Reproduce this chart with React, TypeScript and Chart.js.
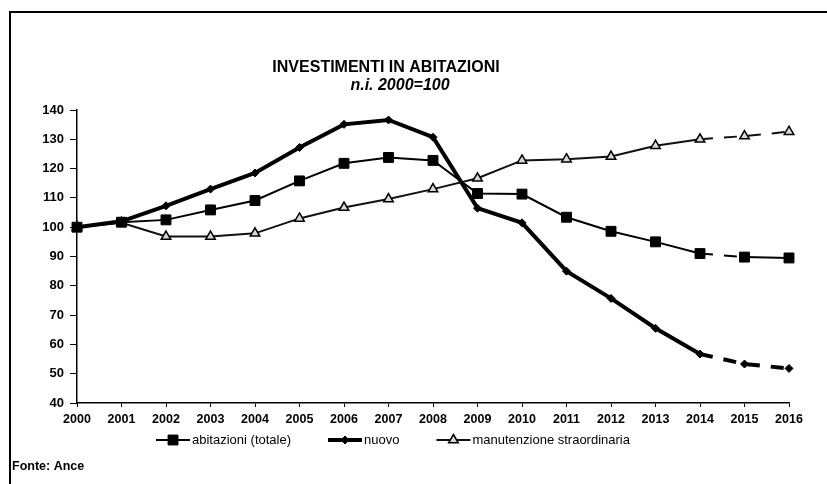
import React, { useEffect, useRef } from "react";
import { Chart, registerables } from "chart.js";

Chart.register(...registerables);

const YEARS = ["2000", "2001", "2002", "2003", "2004", "2005", "2006", "2007", "2008", "2009", "2010", "2011", "2012", "2013", "2014", "2015", "2016"];
const ABITAZIONI = [100, 101.7, 102.5, 105.9, 109.1, 115.8, 121.8, 123.8, 122.8, 111.5, 111.3, 103.4, 98.6, 95.0, 91.0, 89.8, 89.5];
const NUOVO = [100, 102, 107.3, 113, 118.5, 127.2, 135.1, 136.6, 130.7, 106.5, 101.5, 85, 75.7, 65.5, 56.7, 53.3, 51.8];
const MANUTENZIONE = [100, 101.5, 96.8, 96.8, 97.9, 103, 106.7, 109.6, 113, 116.7, 122.8, 123.2, 124.1, 127.8, 130, 131.1, 132.6];
const SERIES_NAMES = ["abitazioni (totale)", "nuovo", "manutenzione straordinaria"];
// indices of segment start points drawn dashed, per series
const DASHED_ABITAZIONI = [14];
const DASHED_NUOVO = [14, 15];
const DASHED_MANUTENZIONE = [14, 15];

const Y_MIN = 40;
const Y_MAX = 140;
const Y_STEP = 10;

const TITLE = "INVESTIMENTI IN ABITAZIONI";
const SUBTITLE = "n.i. 2000=100";
const SOURCE = "Fonte: Ance";

const FONT = '"Liberation Sans", Arial, Helvetica, sans-serif';
const TITLE_X = 386;
const SUBTITLE_X = 400;
const LEGEND_X = 393;

function drawMarker(ctx: CanvasRenderingContext2D, style: string, x: number, y: number, r: number, fill: string, stroke: string, lw: number) {
  ctx.save();
  ctx.beginPath();
  if (style === "rect") {
    const s = r * Math.SQRT1_2;
    ctx.rect(x - s, y - s, 2 * s, 2 * s);
  } else if (style === "rectRot") {
    ctx.moveTo(x, y - r);
    ctx.lineTo(x + r, y);
    ctx.lineTo(x, y + r);
    ctx.lineTo(x - r, y);
    ctx.closePath();
  } else {
    ctx.moveTo(x, y - r);
    ctx.lineTo(x + r * 0.87, y + r * 0.5);
    ctx.lineTo(x - r * 0.87, y + r * 0.5);
    ctx.closePath();
  }
  ctx.fillStyle = fill;
  ctx.fill();
  ctx.lineWidth = lw;
  ctx.strokeStyle = stroke;
  ctx.stroke();
  ctx.restore();
}

const decorPlugin = {
  id: "decor",
  afterDraw(chart: any) {
    const ctx: CanvasRenderingContext2D = chart.ctx;
    ctx.save();
    // frame
    ctx.strokeStyle = "#000";
    ctx.lineWidth = 2;
    ctx.beginPath();
    ctx.moveTo(10, 484);
    ctx.lineTo(10, 12);
    ctx.lineTo(827, 12);
    ctx.stroke();

    // titles
    ctx.fillStyle = "#000";
    ctx.textAlign = "center";
    ctx.textBaseline = "middle";
    ctx.font = `bold 16px ${FONT}`;
    ctx.fillText(TITLE, TITLE_X, 68);
    ctx.font = `italic bold 16px ${FONT}`;
    ctx.fillText(SUBTITLE, SUBTITLE_X, 86);

    // legend
    ctx.font = `13px ${FONT}`;
    const lineLen = 34;
    const gap = 37;
    const textGap = 2;
    const widths = chart.data.datasets.map((d: any) => ctx.measureText(d.label).width);
    let total = 0;
    widths.forEach((w: number, i: number) => {
      total += lineLen + textGap + w + (i < widths.length - 1 ? gap : 0);
    });
    let x = LEGEND_X - total / 2;
    const ly = 440;
    chart.data.datasets.forEach((d: any, i: number) => {
      ctx.save();
      ctx.strokeStyle = d.borderColor;
      ctx.lineWidth = d.borderWidth;
      ctx.beginPath();
      ctx.moveTo(x, ly);
      ctx.lineTo(x + lineLen, ly);
      ctx.stroke();
      ctx.restore();
      drawMarker(ctx, d.pointStyle, x + lineLen / 2, ly, d.pointRadius, d.pointBackgroundColor, d.pointBorderColor, d.pointBorderWidth);
      ctx.fillStyle = "#000";
      ctx.textAlign = "left";
      ctx.textBaseline = "middle";
      ctx.fillText(d.label, x + lineLen + textGap, ly);
      x += lineLen + textGap + widths[i] + gap;
    });

    // source
    ctx.font = `bold 12.5px ${FONT}`;
    ctx.textAlign = "left";
    ctx.fillText(SOURCE, 12, 467);
    ctx.restore();
  },
};

const dashedAt = (idx: number[]) => (ctx: any) => (idx.includes(ctx.p0DataIndex) ? [13, 11] : undefined);

export default function App() {
  const ref = useRef<HTMLCanvasElement | null>(null);

  useEffect(() => {
    if (!ref.current) return;
    const chart = new Chart(ref.current, {
      type: "line",
      data: {
        labels: YEARS,
        datasets: [
          {
            label: SERIES_NAMES[0],
            data: ABITAZIONI,
            borderColor: "#000",
            borderWidth: 2,
            pointStyle: "rect",
            pointRadius: 7,
            pointBackgroundColor: "#000",
            pointBorderColor: "#000",
            pointBorderWidth: 1,
            tension: 0,
            segment: { borderDash: dashedAt(DASHED_ABITAZIONI) },
          },
          {
            label: SERIES_NAMES[1],
            data: NUOVO,
            borderColor: "#000",
            borderWidth: 4,
            pointStyle: "rectRot",
            pointRadius: 4,
            pointBackgroundColor: "#000",
            pointBorderColor: "#000",
            pointBorderWidth: 1,
            tension: 0,
            segment: { borderDash: dashedAt(DASHED_NUOVO) },
          },
          {
            label: SERIES_NAMES[2],
            data: MANUTENZIONE,
            borderColor: "#111",
            borderWidth: 2,
            pointStyle: "triangle",
            pointRadius: 5.5,
            pointBackgroundColor: "#d8d8d8",
            pointBorderColor: "#000",
            pointBorderWidth: 1.5,
            tension: 0,
            segment: { borderDash: dashedAt(DASHED_MANUTENZIONE) },
          },
        ] as any,
      },
      options: {
        responsive: false,
        animation: false,
        layout: { padding: { left: 0, top: 110, right: 38, bottom: 61 } },
        plugins: {
          legend: { display: false },
          title: { display: false },
          tooltip: { enabled: false },
        },
        scales: {
          x: {
            type: "category",
            offset: false,
            afterFit: (s: any) => {
              s.height = 20;
            },
            grid: { display: true, drawOnChartArea: false, drawTicks: true, tickLength: 4, color: "#000" },
            border: { display: true, color: "#000", width: 1.5 },
            ticks: {
              color: "#000",
              font: { family: FONT, size: 12.5, weight: "bold" },
              padding: 5,
              maxRotation: 0,
              minRotation: 0,
              autoSkip: false,
            },
          },
          y: {
            min: Y_MIN,
            max: Y_MAX,
            afterFit: (s: any) => {
              s.width = 77;
            },
            grid: { display: true, drawOnChartArea: false, drawTicks: true, tickLength: 7, color: "#000" },
            border: { display: true, color: "#000", width: 1.5 },
            ticks: {
              stepSize: Y_STEP,
              color: "#000",
              font: { family: FONT, size: 13, weight: "bold" },
              padding: 6,
            },
          },
        },
      } as any,
      plugins: [decorPlugin],
    });
    return () => chart.destroy();
  }, []);

  return (
    <div style={{ position: "fixed", left: 0, top: 0, width: 827, height: 484, background: "#fff" }}>
      <canvas ref={ref} width={827} height={484} style={{ display: "block" }} />
    </div>
  );
}
